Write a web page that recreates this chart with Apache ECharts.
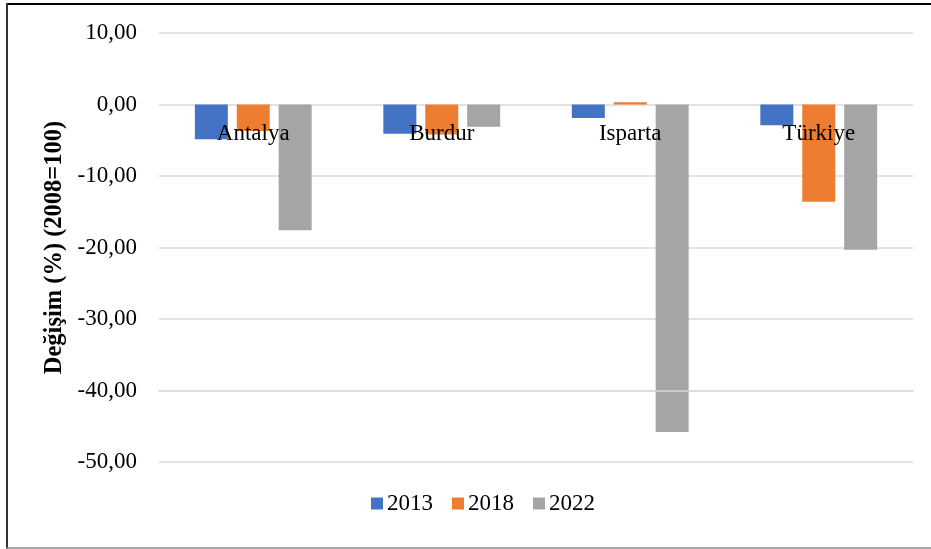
<!DOCTYPE html>
<html>
<head>
<meta charset="utf-8">
<script src="https://cdn.jsdelivr.net/npm/echarts@6/dist/echarts.min.js"></script>
<style>html,body{margin:0;padding:0;background:#fff}#c{width:931px;height:549px}</style>
</head>
<body>
<div id="c"></div>
<script>
var categories = ['Antalya', 'Burdur', 'Isparta', 'Türkiye'];
var seriesNames = ['2013', '2018', '2022'];
var values2013 = [-4.86, -4.1, -1.9, -2.9];
var values2018 = [-3.7, -4.2, 0.3, -13.6];
var values2022 = [-17.6, -3.1, -45.8, -20.3];

var FONT = '"Liberation Serif", "Times New Roman", serif';
var chart = echarts.init(document.getElementById('c'), null, {renderer: 'canvas'});
var colors = ['#4472C4', '#ED7D31', '#A5A5A5'];
var data = [values2013, values2018, values2022];
var GRID_BOTTOM = 87, H = 549;
chart.setOption({
  animation: false,
  backgroundColor: '#fff',
  graphic: [
    {type: 'line', shape: {x1: 6, y1: 4, x2: 931, y2: 4}, style: {stroke: '#000', lineWidth: 2}},
    {type: 'line', shape: {x1: 7, y1: 3, x2: 7, y2: 549}, style: {stroke: '#333', lineWidth: 2}},
    {type: 'line', shape: {x1: 6, y1: 548, x2: 931, y2: 548}, style: {stroke: '#888', lineWidth: 1.5}}
  ],
  grid: {left: 159, right: 18, top: 33, bottom: GRID_BOTTOM},
  legend: {
    data: seriesNames, top: 487, left: 366,
    itemWidth: 12, itemHeight: 12, itemGap: 19,
    icon: 'rect',
    textStyle: {fontFamily: FONT, fontSize: 23, color: '#000', padding: [0,0,0,-1]}
  },
  xAxis: {
    type: 'category', data: categories,
    axisLine: {show: true, onZero: true, lineStyle: {color: '#D9D9D9', width: 1.5}},
    axisTick: {show: false},
    axisLabel: {fontFamily: FONT, fontSize: 23, color: '#000', margin: 18},
    z: 10
  },
  yAxis: {
    type: 'value', min: -50, max: 10, interval: 10,
    name: 'Değişim (%) (2008=100)', nameLocation: 'middle', nameGap: 81,
    nameTextStyle: {fontFamily: FONT, fontSize: 24.5, fontWeight: 'bold', color: '#000'},
    axisLine: {show: false}, axisTick: {show: false},
    axisLabel: {fontFamily: FONT, fontSize: 23, color: '#000', margin: 22,
      formatter: function (v) { return v.toFixed(2).replace('.', ','); }},
    splitLine: {lineStyle: {color: '#D9D9D9', width: 1.5}}
  },
  series: seriesNames.map(function (n, i) {
    return {
      name: n, type: 'bar', data: data[i], barWidth: 33, barGap: '27%',
      itemStyle: {color: colors[i]}
    };
  })
});
// place the category axis on the value axis's zero line, using the library's scale
var zeroY = chart.convertToPixel({yAxisIndex: 0}, 0);
chart.setOption({xAxis: {offset: zeroY - (H - GRID_BOTTOM)}});
</script>
</body>
</html>
